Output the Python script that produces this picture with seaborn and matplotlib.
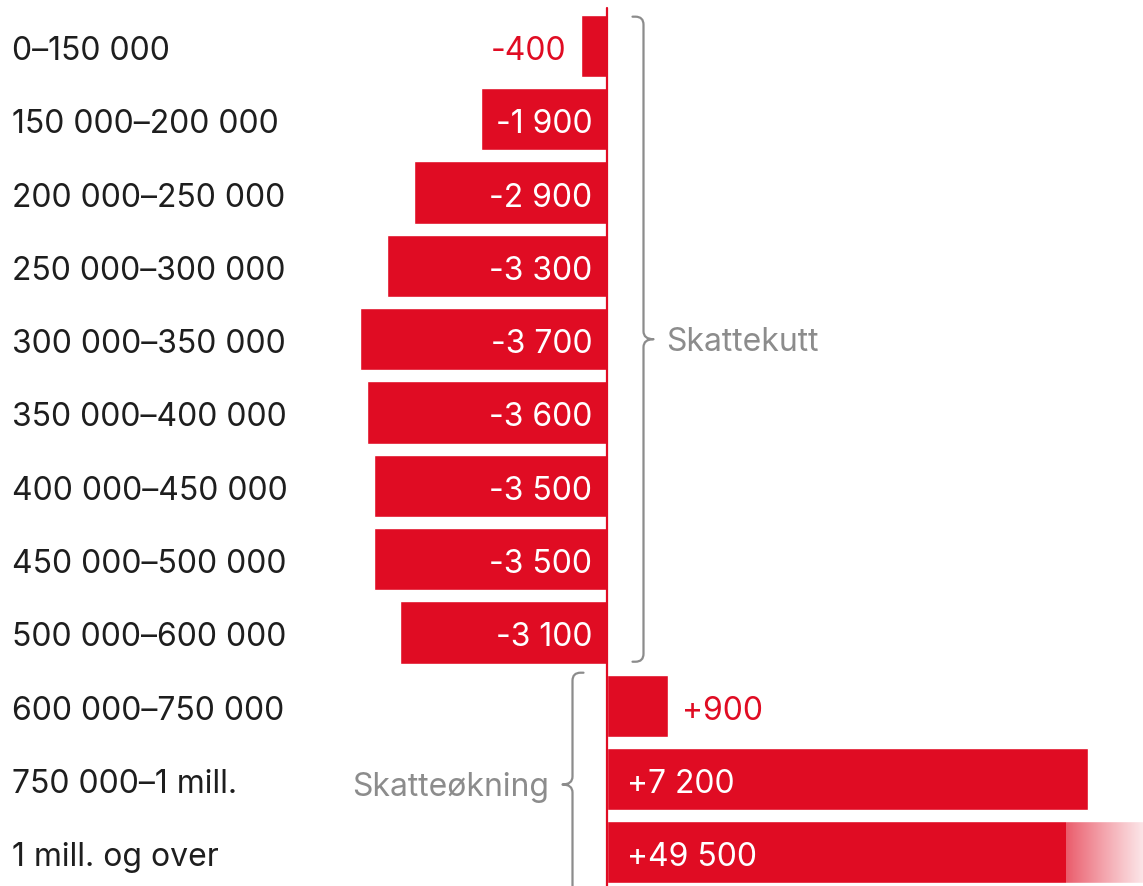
import matplotlib
matplotlib.use("Agg")
import matplotlib.pyplot as plt
import matplotlib.transforms as mtransforms
from matplotlib.path import Path
from matplotlib.patches import PathPatch
import numpy as np
import pandas as pd
import seaborn as sns

# income brackets and change in tax (kr)
brackets = ["0–150 000", "150 000–200 000", "200 000–250 000", "250 000–300 000",
            "300 000–350 000", "350 000–400 000", "400 000–450 000", "450 000–500 000",
            "500 000–600 000", "600 000–750 000", "750 000–1 mill.", "1 mill. og over"]
change = [-400, -1900, -2900, -3300, -3700, -3600, -3500, -3500, -3100, 900, 7200, 49500]
value_labels = ["-400", "-1 900", "-2 900", "-3 300", "-3 700", "-3 600", "-3 500",
                "-3 500", "-3 100", "+900", "+7 200", "+49 500"]
group_labels = ["Skattekutt", "Skatteøkning"]

RED = "#e00c23"
GREY = "#8c8c8c"
TXT = "#1e1e1e"
FS = 23

W, H = 1143, 886
sns.set_theme(style="white")
plt.rcParams["font.family"] = ["Inter", "DejaVu Sans"]

fig = plt.figure(figsize=(W / 100, H / 100), dpi=100)
ax = fig.add_axes([0, 0, 1, 1])

df = pd.DataFrame({"bracket": brackets, "change": change})
sns.barplot(data=df, x="change", y="bracket", orient="h", color=RED,
            saturation=1, width=0.85, ax=ax)

# scale: zero at ~607.5 px, 0.0668 px per krone
px = 0.0668
x0 = -607.5 / px
x1 = (W - 607.5) / px
row = 73.3
ylim = ((H - 46) / row, -46 / row)


def dx(p):
    return p / px


# zero line
ax.plot([0, 0], [-38 / row, ylim[0]], color=RED, lw=1.6, zorder=5)

# text sits a touch below the bar centre
ty = 2 / row

# category labels
lab_tr = mtransforms.blended_transform_factory(ax.transAxes, ax.transData)
for i, b in enumerate(brackets):
    ax.text(12 / W, i + ty, b, transform=lab_tr, ha="left", va="center_baseline",
            fontsize=FS, color=TXT)

# value labels
for i, (v, s) in enumerate(zip(change, value_labels)):
    if v < 0:
        if abs(v) >= 1000:
            ax.text(dx(-15), i + ty, s, ha="right", va="center_baseline", fontsize=FS,
                    color="white", zorder=6)
        else:
            ax.text(v + dx(-14), i + ty, s, ha="right", va="center_baseline", fontsize=FS,
                    color=RED)
    else:
        if v >= 1000:
            ax.text(dx(20), i + ty, s, ha="left", va="center_baseline", fontsize=FS,
                    color="white", zorder=6)
        else:
            ax.text(v + dx(14), i + ty, s, ha="left", va="center_baseline", fontsize=FS,
                    color=RED)

# fade out the truncated last bar
grad = np.zeros((1, 256, 4))
grad[..., :3] = 1.0
grad[..., 3] = np.linspace(0.25, 0.88, 256) ** 0.8
last = len(change) - 1
ax.imshow(grad, extent=(dx(1066 - 607.5), x1, last + 0.44, last - 0.44),
          aspect="auto", zorder=4, interpolation="bilinear")


def brace(xv, y0, y1, d, hook=11, tip=10, r=8):
    xh = xv - d * dx(hook)
    xt = xv + d * dx(tip)
    rx = dx(r)
    ry = r / row
    ym = (y0 + y1) / 2
    verts = [(xh, y0), (xv - d * rx, y0), (xv, y0), (xv, y0 + ry),
             (xv, ym - ry), (xv, ym), (xt, ym), (xv, ym), (xv, ym + ry),
             (xv, y1 - ry), (xv, y1), (xv - d * rx, y1), (xh, y1)]
    codes = [Path.MOVETO, Path.LINETO, Path.CURVE3, Path.CURVE3,
             Path.LINETO, Path.CURVE3, Path.CURVE3, Path.CURVE3, Path.CURVE3,
             Path.LINETO, Path.CURVE3, Path.CURVE3, Path.LINETO]
    ax.add_patch(PathPatch(Path(verts, codes), fill=False, ec=GREY, lw=1.6,
                           capstyle="round", joinstyle="round", zorder=3))
    return xt, ym


neg = [i for i, v in enumerate(change) if v < 0]
pos = [i for i, v in enumerate(change) if v > 0]

xt, ym = brace(dx(36), neg[0] - 0.4, neg[-1] + 0.4, 1)
ax.text(xt + dx(13), ym, group_labels[0], ha="left", va="center_baseline", fontsize=FS,
        color=GREY)
xt, ym = brace(dx(-35), pos[0] - 0.45, pos[-1] + 0.6, -1)
ax.text(xt - dx(13), ym, group_labels[1], ha="right", va="center_baseline", fontsize=FS,
        color=GREY)

ax.set_xlim(x0, x1)
ax.set_ylim(*ylim)
ax.axis("off")

fig.savefig("out.png", dpi=100, facecolor="white")
